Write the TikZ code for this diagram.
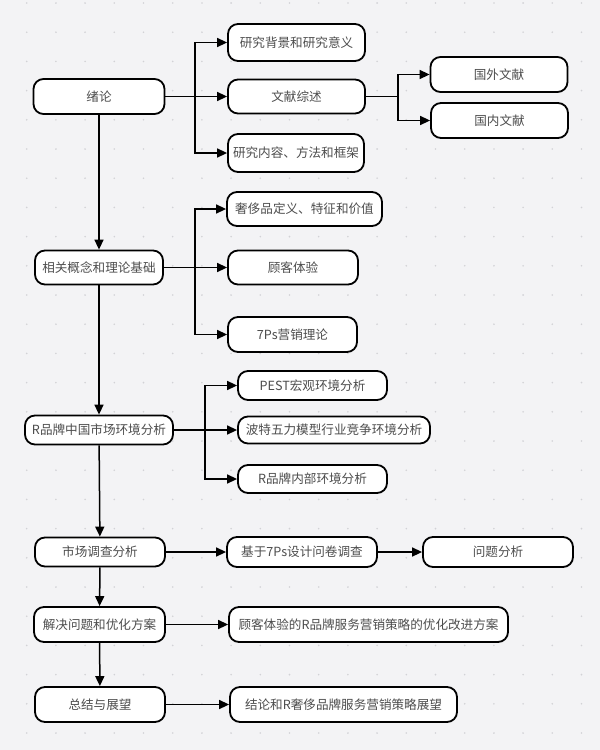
\documentclass[tikz,border=0pt]{standalone}
\usepackage{fontspec}
\newfontfamily\cjk{Noto Sans CJK SC}
\usetikzlibrary{arrows.meta, calc}
\definecolor{bgc}{HTML}{F3F3F5}
\definecolor{dotc}{HTML}{D2D2D6}
\definecolor{txtc}{HTML}{4D4D4D}
\tikzset{
  box/.style={
    rectangle, rounded corners=10pt, inner sep=0pt,
    text centered, draw=black, line width=1.8pt, fill=white,
    text=txtc, font=\cjk\fontsize{12.6}{15}\selectfont
  },
  arrow/.style={
    -{Triangle[length=10pt,width=9pt]}, line width=1.5pt, color=black
  }
}

\begin{document}
\begin{tikzpicture}[x=1pt, y=-1pt]
    % Background with dot grid
    \fill[bgc] (0,0) rectangle (600,750);
    \useasboundingbox (0,0) rectangle (600,750);
    \foreach \i in {0,...,20}
      \foreach \j in {0,...,25}
        \fill[dotc] (26.7+29.2*\i, 3+29.2*\j) circle (0.9);

    % Main column
    \node[box, minimum width=131pt, minimum height=35pt] (xulun) at (99,96.5) {绪论};
    \node[box, minimum width=128pt, minimum height=34pt] (jichu) at (99,267.5) {相关概念和理论基础};
    \node[box, minimum width=148pt, minimum height=29pt] (huanjing) at (99,430) {R品牌中国市场环境分析};
    \node[box, minimum width=130pt, minimum height=29pt] (diaocha) at (100,552) {市场调查分析};
    \node[box, minimum width=131pt, minimum height=35pt] (fangan) at (99.5,624.5) {解决问题和优化方案};
    \node[box, minimum width=130pt, minimum height=35pt] (zongjie) at (100,704.5) {总结与展望};

    % Introduction branch
    \node[box, minimum width=137pt, minimum height=37pt] (beijing) at (296.5,42.5) {研究背景和研究意义};
    \node[box, minimum width=137pt, minimum height=34pt] (zongshu) at (296.5,96.5) {文献综述};
    \node[box, minimum width=136pt, minimum height=38pt] (neirong) at (296,153) {研究内容、方法和框架};
    \node[box, minimum width=137pt, minimum height=35pt] (guowai) at (499,74.5) {国外文献};
    \node[box, minimum width=137pt, minimum height=35pt] (guonei) at (499.5,120.5) {国内文献};

    % Theory branch
    \node[box, minimum width=155pt, minimum height=34pt] (shechi) at (304.5,209) {奢侈品定义、特征和价值};
    \node[box, minimum width=130pt, minimum height=34pt] (tiyan) at (293,267.5) {顾客体验};
    \node[box, minimum width=129pt, minimum height=35pt] (lilun) at (292.5,334.5) {7Ps营销理论};

    % Environment branch
    \node[box, minimum width=149pt, minimum height=29pt] (pest) at (312.5,385.5) {PEST宏观环境分析};
    \node[box, minimum width=192pt, minimum height=27pt] (wuli) at (334,430) {波特五力模型行业竞争环境分析};
    \node[box, minimum width=149pt, minimum height=28pt] (neibu) at (312.5,479) {R品牌内部环境分析};

    % Survey, solution and outlook
    \node[box, minimum width=150pt, minimum height=30pt] (wenjuan) at (302,552) {基于7Ps设计问卷调查};
    \node[box, minimum width=150pt, minimum height=30pt] (wenti) at (498,552) {问题分析};
    \node[box, minimum width=279pt, minimum height=35pt] (gaijin) at (368.5,624.5) {顾客体验的R品牌服务营销策略的优化改进方案};
    \node[box, minimum width=227pt, minimum height=35pt] (zhanwang) at (343.5,704.5) {结论和R奢侈品牌服务营销策略展望};

    % Branch points
    \coordinate (b1) at (195,0);
    \coordinate (b2) at (398,0);
    \coordinate (b3) at (195,0);
    \coordinate (b4) at (205,0);

    % Main flow
    \draw[arrow] (xulun) -- (jichu);
    \draw[arrow] (jichu) -- (huanjing);
    \draw[arrow] (huanjing) -- (diaocha);
    \draw[arrow] (diaocha) -- (fangan);
    \draw[arrow] (fangan) -- (zongjie);

    % Introduction connectors
    \draw[arrow] (xulun.east) -- (zongshu.west);
    \draw[arrow] (xulun.east -| b1) |- (beijing.west);
    \draw[arrow] (xulun.east -| b1) |- (neirong.west);
    \draw[line width=1.5pt] (zongshu.east) -- (zongshu.east -| b2);
    \draw[arrow] (zongshu.east -| b2) |- (guowai.west);
    \draw[arrow] (zongshu.east -| b2) |- (guonei.west);

    % Theory connectors
    \draw[arrow] (jichu.east) -- (tiyan.west);
    \draw[arrow] (jichu.east -| b3) |- (shechi.west);
    \draw[arrow] (jichu.east -| b3) |- (lilun.west);

    % Environment connectors
    \draw[arrow] (huanjing.east) -- (wuli.west);
    \draw[arrow] (huanjing.east -| b4) |- (pest.west);
    \draw[arrow] (huanjing.east -| b4) |- (neibu.west);

    % Other connectors
    \draw[arrow] (diaocha) -- (wenjuan);
    \draw[arrow] (wenjuan) -- (wenti);
    \draw[arrow] (fangan) -- (gaijin);
    \draw[arrow] (zongjie) -- (zhanwang);
\end{tikzpicture}
\end{document}
